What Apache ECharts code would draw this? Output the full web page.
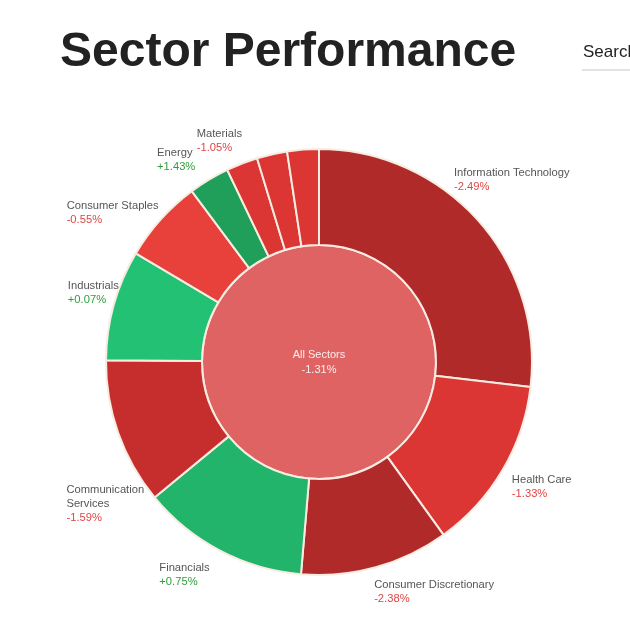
<!DOCTYPE html>
<html>
<head>
<meta charset="utf-8">
<title>Sector Performance</title>
<script src="https://cdn.jsdelivr.net/npm/echarts@6/dist/echarts.min.js"></script>
<style>
    html, body { margin: 0; padding: 0; background: #fff; }
    #chart { width: 630px; height: 628px; }
</style>
</head>
<body>
<div id="chart"></div>
<script>
    // sector weights (share of the ring) and daily change in %
    var sectors = ['Information Technology', 'Health Care', 'Consumer Discretionary', 'Financials',
        'Communication Services', 'Industrials', 'Consumer Staples', 'Energy', 'Materials',
        'Real Estate', 'Utilities'];
    var weights = [26.9, 13.2, 11.3, 12.7, 11.1, 8.4, 6.3, 3.1, 2.4, 2.3, 2.4];
    var changes = [-2.49, -1.33, -2.38, 0.75, -1.59, 0.07, -0.55, 1.43, -1.05, -1.12, -1.27];
    var hiddenLabels = ['Real Estate', 'Utilities'];
    var totalName = 'All Sectors';
    var totalChange = -1.31;

    var CX = 319, CY = 362;

    function colorFor(v) {
        if (v >= 1) return '#1f9f5a';
        if (v >= 0.5) return '#22b46a';
        if (v >= 0) return '#23c174';
        if (v > -1) return '#e8413b';
        if (v > -1.5) return '#db3634';
        if (v > -2) return '#c62e2e';
        return '#b02a2a';
    }
    function fmt(v) {
        return (v > 0 ? '+' : '') + v.toFixed(2) + '%';
    }

    var ringData = [];
    for (var i = 0; i < sectors.length; i++) {
        var item = {
            name: sectors[i],
            value: weights[i],
            change: changes[i],
            itemStyle: { color: colorFor(changes[i]) }
        };
        if (hiddenLabels.indexOf(sectors[i]) >= 0) {
            item.label = { show: false };
        }
        ringData.push(item);
    }

    // small shifts so labels sit where the original puts them
    var labelNudge = {
        'Information Technology': [-33, -26],
        'Communication Services': [31, 48],
        'Consumer Discretionary': [-8, 6],
        'Financials': [-3, 6],
        'Industrials': [10, 0],
        'Consumer Staples': [3, 8],
        'Energy': [7, -15],
        'Materials': [7, -7]
    };

    var myChart = echarts.init(document.getElementById('chart'));
    var option = {
        backgroundColor: '#fff',
        animation: false,
        textStyle: { fontFamily: 'Liberation Sans, Arial, sans-serif' },
        graphic: [
            {
                type: 'text', left: 60, top: 29,
                style: { text: 'Sector Performance', font: 'bold 48px "Liberation Sans", Arial, sans-serif', fill: '#222' }
            },
            {
                type: 'text', left: 583, top: 44,
                style: { text: 'Search', font: '17px "Liberation Sans", Arial, sans-serif', fill: '#222' }
            },
            {
                type: 'rect', left: 582, top: 69,
                shape: { width: 60, height: 2 },
                style: { fill: '#e2e2e2' }
            }
        ],
        series: [
            {
                type: 'pie',
                center: [CX, CY],
                radius: [0, 117],
                silent: true,
                itemStyle: { borderColor: '#f8ece2', borderWidth: 2 },
                label: {
                    position: 'center',
                    formatter: function (p) {
                        return p.name + '\n' + fmt(totalChange);
                    },
                    color: '#fbeeee',
                    fontSize: 11,
                    lineHeight: 15
                },
                data: [{ name: totalName, value: 1, itemStyle: { color: '#e06363' } }]
            },
            {
                type: 'pie',
                center: [CX, CY],
                radius: [117, 213],
                startAngle: 90,
                clockwise: true,
                itemStyle: { borderColor: '#f8ece2', borderWidth: 2 },
                label: {
                    position: 'outside',
                    formatter: function (p) {
                        var name = p.name.replace('Communication ', 'Communication\n');
                        var parts = name.split('\n');
                        var s = '';
                        for (var k = 0; k < parts.length; k++) {
                            s += '{n|' + parts[k] + '}\n';
                        }
                        return s + '{' + (p.data.change >= 0 ? 'g' : 'r') + '|' + fmt(p.data.change) + '}';
                    },
                    rich: {
                        n: { color: '#555', fontSize: 11.2, lineHeight: 14, align: 'left' },
                        r: { color: '#e14545', fontSize: 11.2, lineHeight: 14, align: 'left' },
                        g: { color: '#2f9e3c', fontSize: 11.2, lineHeight: 14, align: 'left' }
                    }
                },
                labelLine: { show: false, length: 5, length2: 0 },
                labelLayout: function (params) {
                    var r = params.labelRect;
                    var mid = r.y + r.height / 2;
                    var nudge = labelNudge[sectors[params.dataIndex]] || [0, 0];
                    // upper labels sit above their anchor, lower ones below it
                    return {
                        y: (mid < CY ? mid - r.height : mid) + nudge[1],
                        dx: nudge[0],
                        verticalAlign: 'top'
                    };
                },
                emphasis: { scale: false },
                data: ringData
            }
        ]
    };
    myChart.setOption(option);
</script>
</body>
</html>
